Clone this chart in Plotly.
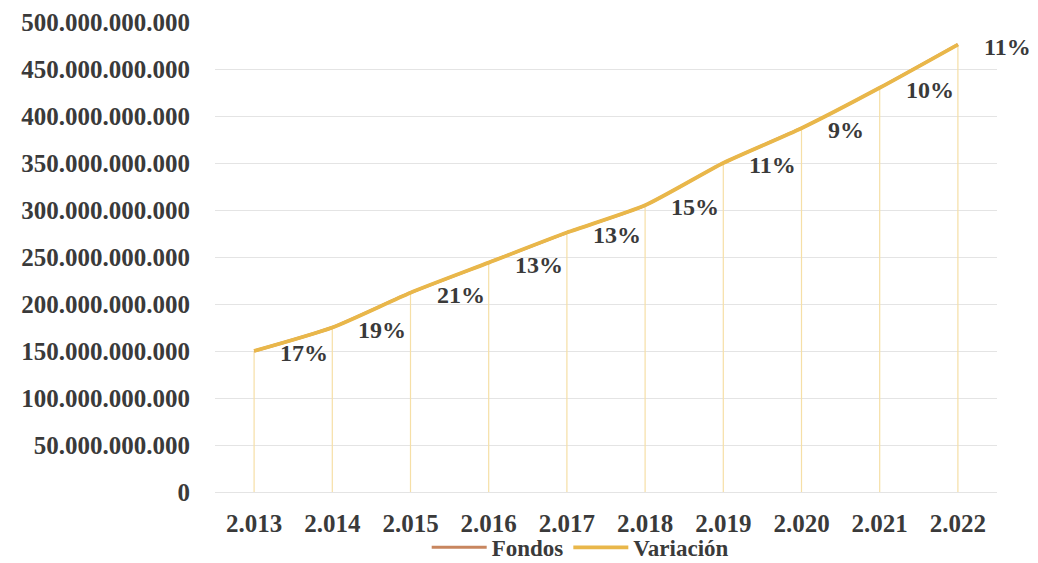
import plotly.graph_objects as go

years = [2013, 2014, 2015, 2016, 2017, 2018, 2019, 2020, 2021, 2022]
year_labels = ["2.013", "2.014", "2.015", "2.016", "2.017", "2.018", "2.019", "2.020", "2.021", "2.022"]
fondos = [150e9, 175e9, 212e9, 244e9, 276e9, 305e9, 350e9, 387e9, 430e9, 476e9]
variacion_labels = ["17%", "19%", "21%", "13%", "13%", "15%", "11%", "9%", "10%", "11%"]
y_ticks = [0, 50e9, 100e9, 150e9, 200e9, 250e9, 300e9, 350e9, 400e9, 450e9, 500e9]
y_tick_labels = ["0", "50.000.000.000", "100.000.000.000", "150.000.000.000", "200.000.000.000",
                 "250.000.000.000", "300.000.000.000", "350.000.000.000", "400.000.000.000",
                 "450.000.000.000", "500.000.000.000"]

FONT = "'Liberation Serif', 'Times New Roman', Times, serif"
TXT = "#3a3a3a"
GOLD = "#E9B74A"
BROWN = "#C8865F"

fig = go.Figure()

# drop lines from each point to the axis
fig.add_trace(go.Scatter(
    x=years, y=fondos, mode="markers",
    marker=dict(size=1, color="rgba(0,0,0,0)"),
    error_y=dict(type="data", symmetric=False, array=[0] * len(fondos),
                 arrayminus=fondos, color="#F6DFA6", thickness=1.2, width=0),
    showlegend=False, hoverinfo="skip",
))

fig.add_trace(go.Scatter(
    x=years, y=fondos, mode="lines", name="Fondos",
    line=dict(color=BROWN, width=3, shape="spline", smoothing=0.6),
))
fig.add_trace(go.Scatter(
    x=years, y=fondos, mode="lines", name="Variación",
    line=dict(color=GOLD, width=3.8, shape="spline", smoothing=0.6),
))

for xv, yv, t in zip(years, fondos, variacion_labels):
    fig.add_annotation(x=xv, y=yv, text=t, showarrow=False, xanchor="left",
                       yanchor="middle", xshift=24, yshift=-2,
                       font=dict(family=FONT, size=24, color=TXT, weight="bold"))

fig.update_layout(
    width=1030, height=555,
    margin=dict(l=207, r=41, t=14, b=71, autoexpand=False),
    paper_bgcolor="white", plot_bgcolor="white",
    font=dict(family=FONT, color=TXT),
    xaxis=dict(range=[2012.5, 2022.5], tickmode="array", tickvals=years, ticktext=year_labels,
               showgrid=False, zeroline=False, showline=False, ticks="",
               ticklabelstandoff=14, automargin=False,
               tickfont=dict(family=FONT, size=25, color=TXT, weight="bold")),
    yaxis=dict(range=[0, 500e9], tickmode="array", tickvals=y_ticks, ticktext=y_tick_labels,
               showgrid=True, gridcolor="#E4E4E4", gridwidth=1,
               zeroline=True, zerolinecolor="#E4E4E4", zerolinewidth=1, showline=False,
               ticks="", ticklabelstandoff=24, automargin=False,
               tickfont=dict(family=FONT, size=25, color=TXT, weight="bold")),
    legend=dict(orientation="h", x=0.467, xanchor="center", y=-0.072, yanchor="top",
                bgcolor="rgba(0,0,0,0)",
                font=dict(family=FONT, size=23, color=TXT, weight="bold"),
                itemwidth=55, tracegroupgap=0),
    showlegend=True,
)

fig.write_html("out.html")
